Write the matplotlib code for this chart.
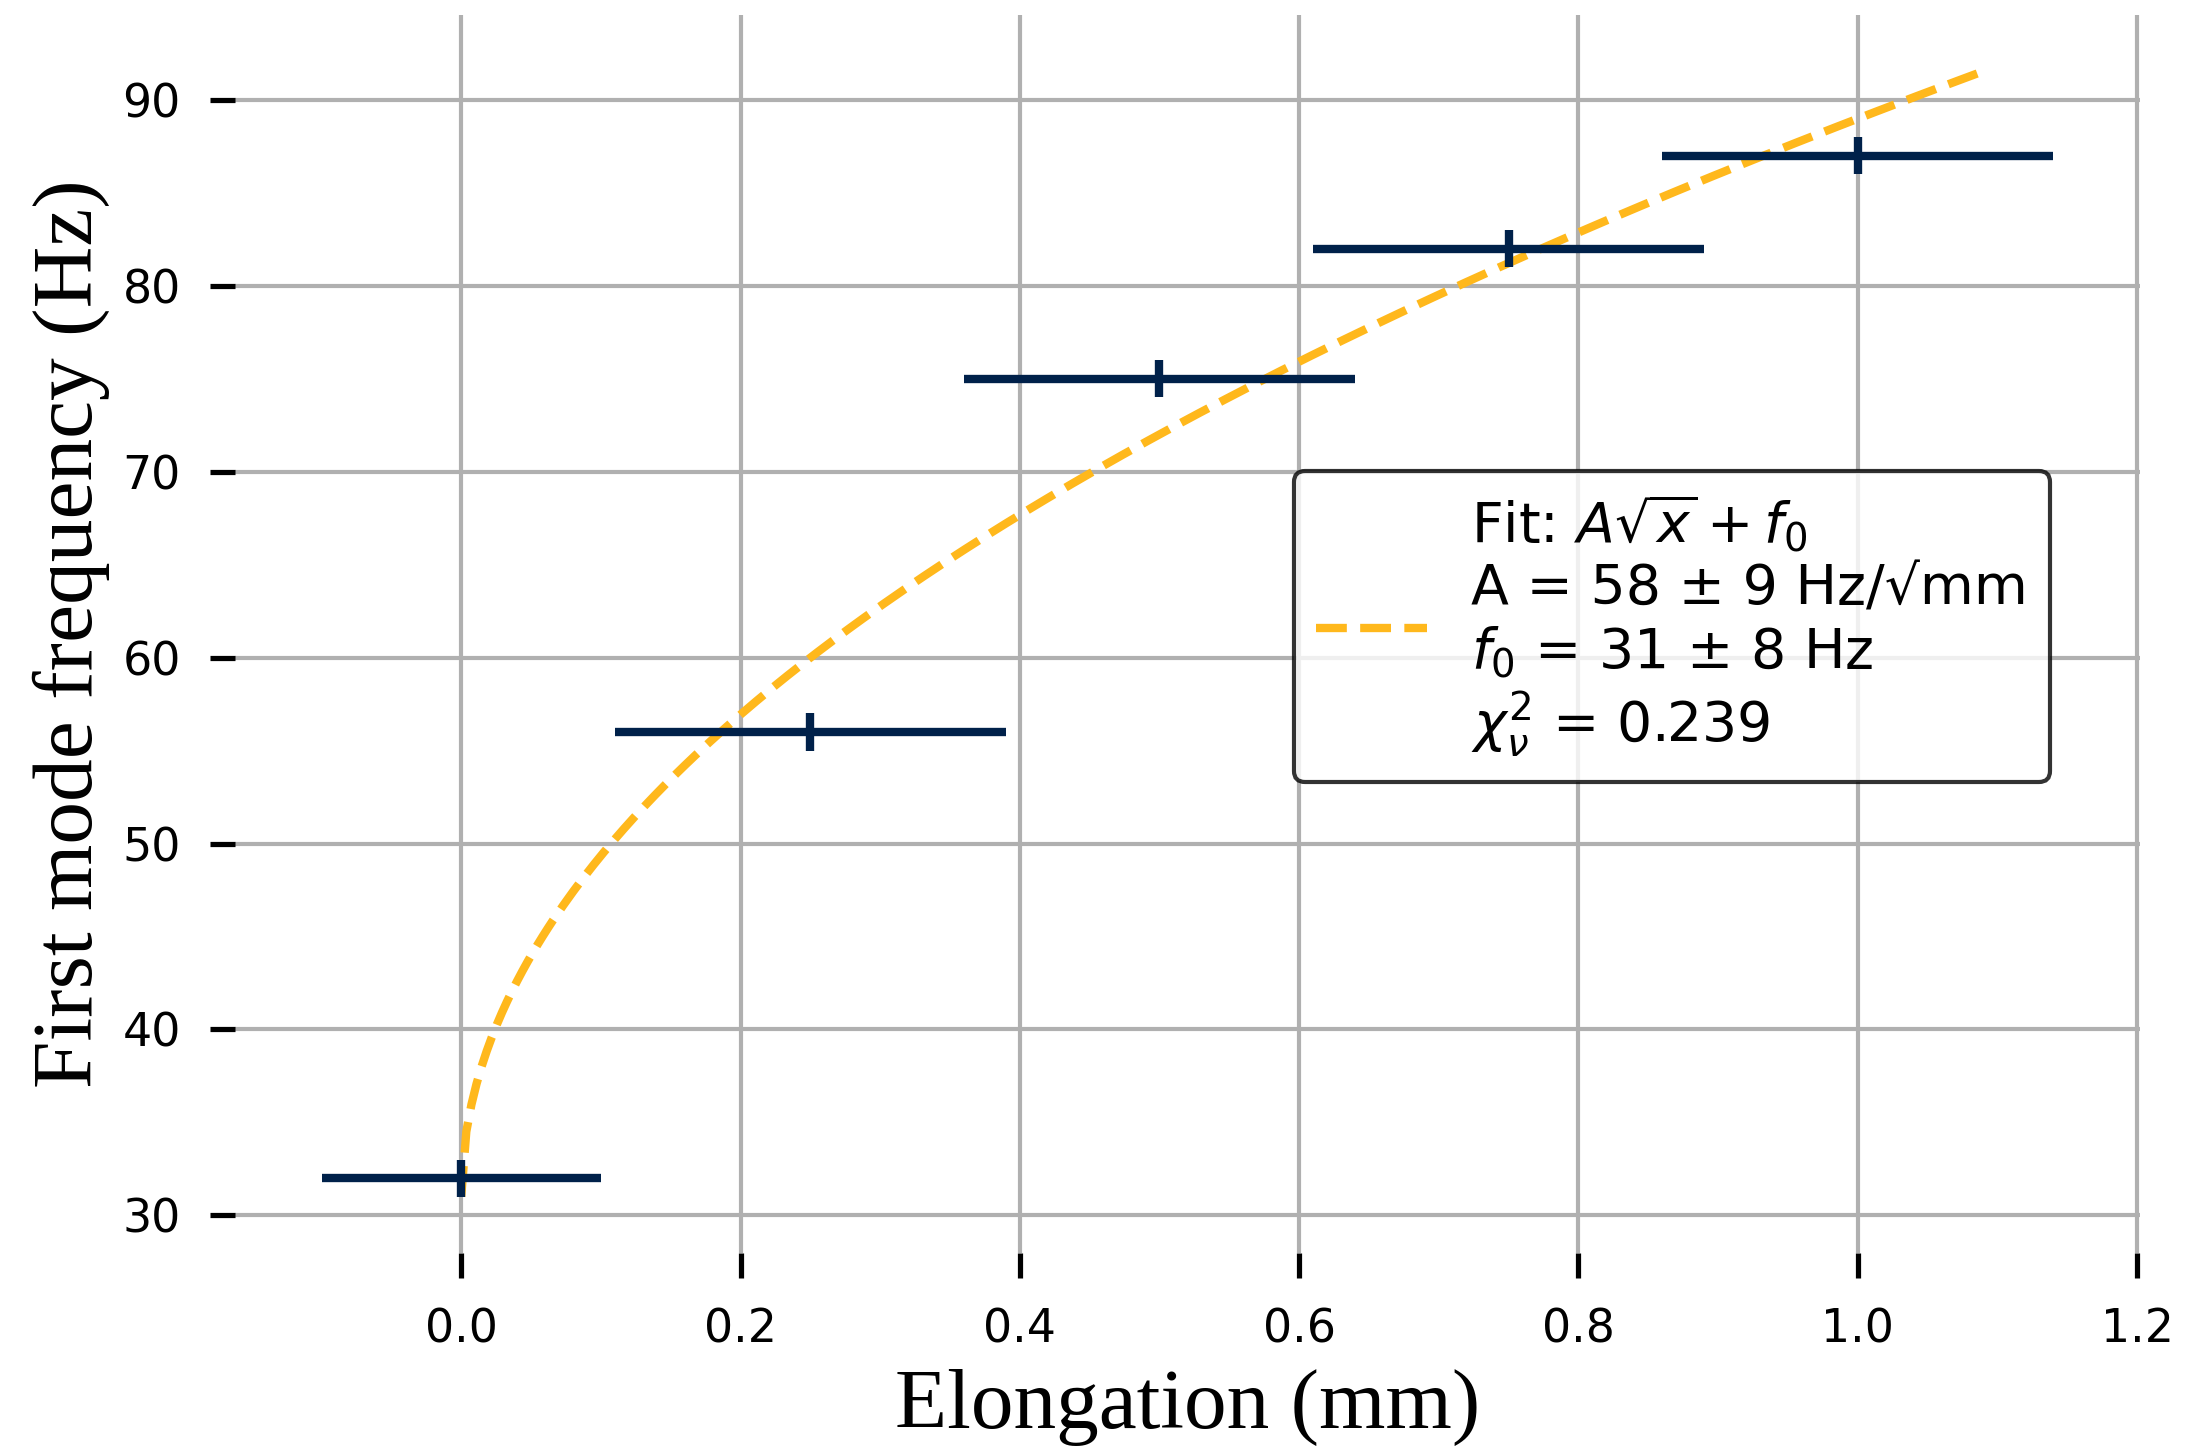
import numpy as np
import matplotlib.pyplot as plt

# measured elongation (mm) and first mode frequency (Hz)
elongation = [0.0, 0.25, 0.5, 0.75, 1.0]
frequency = [32, 56, 75, 82, 87]
elong_err = [0.10, 0.14, 0.14, 0.14, 0.14]
freq_err = [1, 1, 1, 1, 1]

# fit parameters A*sqrt(x) + f0
A_fit = 58
f0_fit = 31
x_fit_max = 1.09

plt.rcParams["font.family"] = "DejaVu Sans"
plt.rcParams["xtick.labelsize"] = 11
plt.rcParams["ytick.labelsize"] = 11
plt.rcParams["xtick.major.size"] = 6
plt.rcParams["ytick.major.size"] = 6
plt.rcParams["xtick.major.width"] = 1.25
plt.rcParams["ytick.major.width"] = 1.25
plt.rcParams["xtick.major.pad"] = 7
plt.rcParams["ytick.major.pad"] = 7
plt.rcParams["grid.linewidth"] = 1

fig = plt.figure(figsize=(2188/300, 1448/300), dpi=300)
ax = fig.add_axes([0.1074, 0.1347, 0.8706, 0.855])

x_fit = np.linspace(0, x_fit_max, 300)
ax.plot(x_fit, A_fit*np.sqrt(x_fit) + f0_fit, '--', color='#FFB81C', lw=2,
        label='Fit: $A\\sqrt{x} + f_0$\nA = 58 ± 9 Hz/√mm\n$f_0$ = 31 ± 8 Hz\n$\\chi^2_\\nu$ = 0.239')
ax.errorbar(elongation, frequency, xerr=elong_err, yerr=freq_err, fmt='none',
            ecolor='#00214A', elinewidth=2, capsize=0)

ax.grid(True, color='#b0b0b0')
ax.set_axisbelow(True)
for s in ax.spines.values():
    s.set_visible(False)

ax.set_xlabel('Elongation (mm)', family='Liberation Serif', fontsize=20.5)
ax.set_ylabel('First mode frequency (Hz)', family='Liberation Serif', fontsize=20.5,
              labelpad=3)

leg = ax.legend(loc='center left', bbox_to_anchor=(0.5557, 0.506), borderaxespad=0,
                fontsize=13.3, edgecolor='black')

plt.savefig('out.png', dpi=300)
